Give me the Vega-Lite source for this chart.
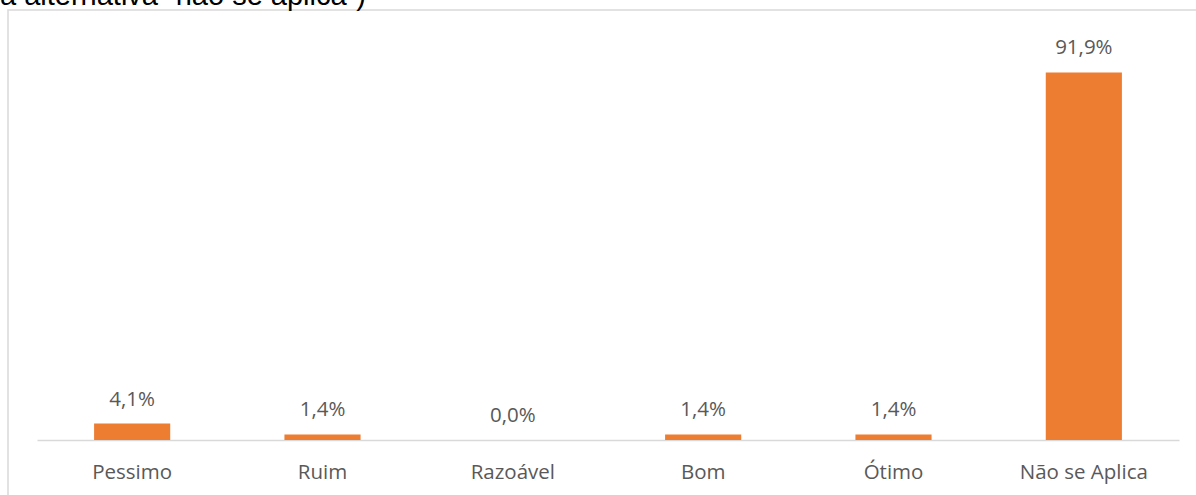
{
  "$schema": "https://vega.github.io/schema/vega-lite/v6.json",
  "autosize": "none",
  "padding": {"left": 8, "top": 10, "right": 0, "bottom": 0},
  "width": 1200,
  "height": 500,
  "title": {
    "text": "a alternativa “não se aplica”)",
    "anchor": "start",
    "orient": "top",
    "frame": "group",
    "font": "Liberation Sans",
    "fontSize": 29,
    "fontWeight": "normal",
    "color": "#000000",
    "baseline": "alphabetic",
    "offset": 0,
    "dx": -8,
    "dy": 24
  },
  "config": {
    "view": {"stroke": "#d9d9d9", "strokeWidth": 1.5},
    "background": "#ffffff"
  },
  "data": {
    "values": [
      {"categoria": "Pessimo", "valor": 4.1, "rotulo": "4,1%"},
      {"categoria": "Ruim", "valor": 1.4, "rotulo": "1,4%"},
      {"categoria": "Razoável", "valor": 0.0, "rotulo": "0,0%"},
      {"categoria": "Bom", "valor": 1.4, "rotulo": "1,4%"},
      {"categoria": "Ótimo", "valor": 1.4, "rotulo": "1,4%"},
      {"categoria": "Não se Aplica", "valor": 91.9, "rotulo": "91,9%"}
    ]
  },
  "encoding": {
    "x": {
      "field": "categoria",
      "type": "nominal",
      "sort": null,
      "scale": {"range": [29, 1171], "paddingInner": 0.6, "paddingOuter": 0.3},
      "axis": {
        "title": null,
        "orient": "bottom",
        "offset": -70,
        "labelAngle": 0,
        "ticks": false,
        "domainColor": "#d9d9d9",
        "domainWidth": 1.5,
        "labelFont": "Open Sans",
        "labelFontSize": 20.5,
        "labelColor": "#595959",
        "labelPadding": 22
      }
    },
    "y": {
      "field": "valor",
      "type": "quantitative",
      "scale": {"domain": [0, 100], "range": [430, 30], "nice": false, "zero": true},
      "axis": null
    }
  },
  "layer": [
    {"mark": {"type": "bar", "color": "#ED7D31"}},
    {
      "mark": {
        "type": "text",
        "baseline": "alphabetic",
        "dy": -18,
        "font": "Open Sans",
        "fontSize": 20.5,
        "color": "#595959"
      },
      "encoding": {"text": {"field": "rotulo"}}
    }
  ]
}
